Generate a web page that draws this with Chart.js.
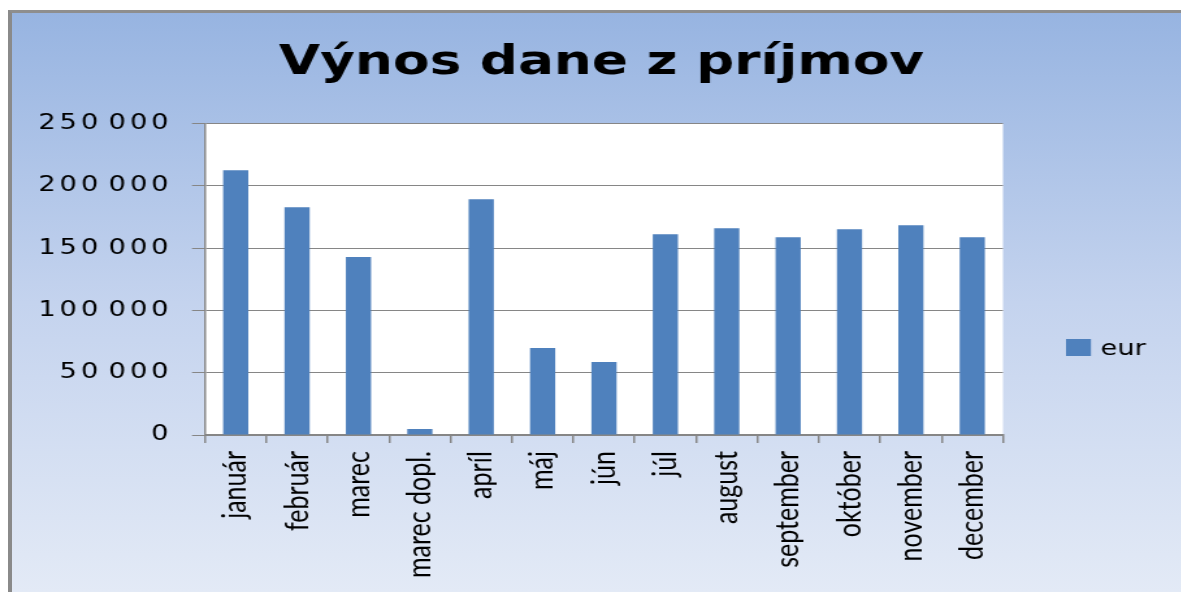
<!DOCTYPE html>
<html><head><meta charset="utf-8">
<script src="https://cdn.jsdelivr.net/npm/chart.js@4"></script>
<style>
html,body{margin:0;padding:0;background:#fff;overflow:hidden;width:1181px;height:592px;}
#frame{position:absolute;left:8px;top:10px;width:1173px;height:582px;box-sizing:border-box;border-left:4px solid #8a8a8a;border-top:3px solid #8e8e8e;background:linear-gradient(to bottom,#97b4e1 0%,#c4d3ee 50%,#e3eaf6 100%);}
#c{position:absolute;left:0;top:0;transform:scaleX(1.3);transform-origin:0 0;}
</style></head><body>
<div id="frame"></div>
<canvas id="c" width="909" height="592"></canvas>
<script>
const titleText = 'Výnos dane z príjmov';
const seriesName = 'eur';
const categories = ['január','február','marec','marec dopl.','apríl','máj','jún','júl','august','september','október','november','december'];
const values = [212700,183000,142900,4800,189400,69800,58600,161300,166100,158900,165300,168500,158900];
const yMin = 0, yMax = 250000, yStep = 50000;

const barColor = '#4f81bd';
const gridColor = '#868686';

function fmt(v){ return String(v).replace(/\B(?=(\d{3})+(?!\d))/g, '\u200A'); }

class SpacedLinearScale extends Chart.LinearScale {
  drawLabels(chartArea){
    const ctx = this.ctx;
    ctx.save();
    ctx.letterSpacing = '3px';
    super.drawLabels(chartArea);
    ctx.restore();
  }
}
SpacedLinearScale.id = 'spacedLinear';
SpacedLinearScale.defaults = Chart.LinearScale.defaults;
Chart.register(SpacedLinearScale);

const plotBg = {
  id: 'plotBg',
  beforeDraw(chart){
    const {ctx, chartArea: a} = chart;
    ctx.save();
    ctx.fillStyle = '#ffffff';
    ctx.fillRect(a.left, a.top, a.right - a.left, a.bottom - a.top);
    ctx.restore();
  }
};

const sideLegend = {
  id: 'sideLegend',
  afterDraw(chart){
    const {ctx, chartArea: a} = chart;
    const ds = chart.data.datasets[0];
    ctx.save();
    ctx.fillStyle = ds.backgroundColor;
    ctx.fillRect(a.right + 48.5, 339, 19.2, 17);
    ctx.fillStyle = '#000';
    ctx.font = '21px "DejaVu Sans"';
    ctx.textBaseline = 'alphabetic';
    ctx.textAlign = 'left';
    ctx.fillText(ds.label, a.right + 75, 355);
    ctx.restore();
  }
};

new Chart(document.getElementById('c'), {
  type: 'bar',
  data: {
    labels: categories,
    datasets: [{
      label: seriesName,
      data: values,
      backgroundColor: barColor,
      borderWidth: 0,
      categoryPercentage: 1,
      barPercentage: 0.41,
      yAxisID: 'y'
    }]
  },
  options: {
    responsive: false,
    animation: false,
    events: [],
    layout: { padding: { left: 16.4, right: 0, top: 0, bottom: 0 } },
    plugins: {
      legend: { display: false },
      tooltip: { enabled: false },
      title: {
        display: true,
        text: titleText,
        color: '#000',
        font: { family: 'DejaVu Sans', size: 41, weight: 'bold', lineHeight: 1.2 },
        padding: { top: 38.5, bottom: 36 }
      }
    },
    scales: {
      x: {
        type: 'category',
        position: 'bottom',
        grid: { display: true, drawOnChartArea: false, drawTicks: true, tickLength: 8, color: gridColor, lineWidth: 1.5, offset: true },
        border: { display: true, color: gridColor, width: 2 },
        ticks: {
          autoSkip: false, minRotation: 90, maxRotation: 90, padding: 8,
          color: '#000', font: { family: 'Lato', size: 25 }
        },
        afterFit(s){ s.height = 157; }
      },
      y: {
        type: 'spacedLinear',
        position: 'left',
        min: yMin, max: yMax,
        grid: { display: true, drawOnChartArea: true, drawTicks: true, tickLength: 10, color: gridColor, lineWidth: 1 },
        border: { display: true, color: gridColor, width: 1.5 },
        ticks: {
          stepSize: yStep, padding: 15, color: '#000',
          font: { family: 'DejaVu Sans', size: 21 },
          callback: (v) => fmt(v)
        },
        afterFit(s){ s.width = 141.3; }
      },
      r: {
        type: 'linear',
        position: 'right',
        display: true,
        grid: { display: false },
        border: { display: false },
        ticks: { display: false },
        afterFit(s){ s.width = 137.5; }
      }
    }
  },
  plugins: [plotBg, sideLegend]
});
</script>
</body></html>
